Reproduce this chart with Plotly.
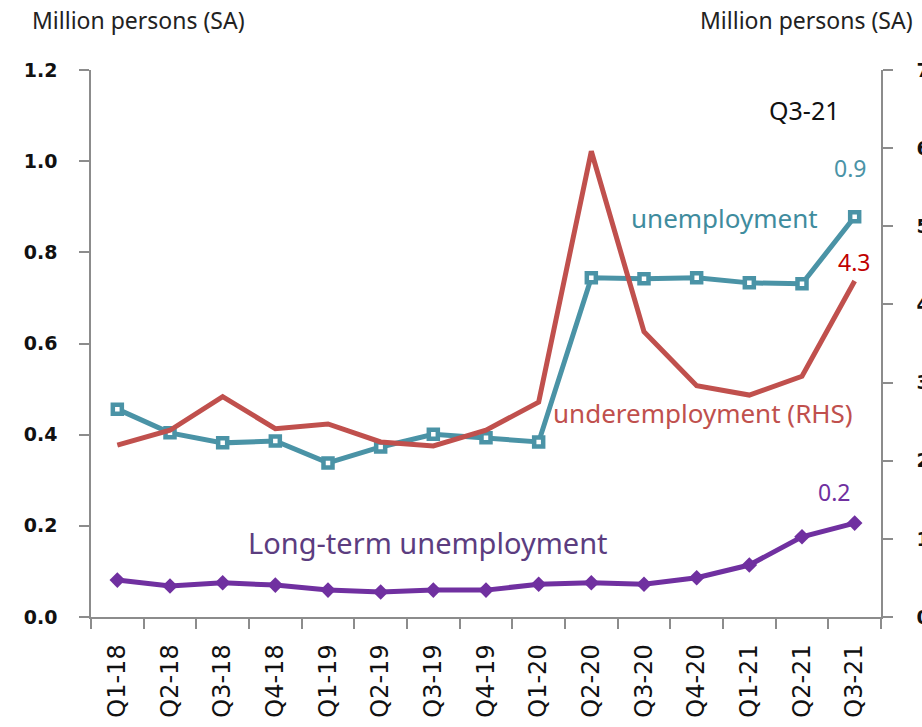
import plotly.graph_objects as go

quarters = ["Q1-18", "Q2-18", "Q3-18", "Q4-18", "Q1-19", "Q2-19", "Q3-19", "Q4-19",
            "Q1-20", "Q2-20", "Q3-20", "Q4-20", "Q1-21", "Q2-21", "Q3-21"]

# Million persons, seasonally adjusted
unemployment = [0.456, 0.404, 0.382, 0.386, 0.338, 0.373, 0.401, 0.393,
                0.384, 0.744, 0.742, 0.744, 0.733, 0.731, 0.878]
underemployment = [2.20, 2.39, 2.82, 2.41, 2.47, 2.24, 2.19, 2.39,
                   2.75, 5.96, 3.65, 2.96, 2.84, 3.08, 4.30]
long_term = [0.081, 0.068, 0.075, 0.070, 0.059, 0.055, 0.059, 0.059,
             0.072, 0.075, 0.072, 0.086, 0.114, 0.176, 0.206]

TEAL = "#4A93A6"
RED = "#C0504D"
PURPLE = "#7030A0"
AXIS = "#8C8C8C"
TICK_FONT = "DejaVu Sans"
TEXT_FONT = "Noto Sans"

fig = go.Figure()

fig.add_trace(go.Scatter(
    x=quarters, y=underemployment, yaxis="y2", mode="lines",
    line=dict(color=RED, width=5), showlegend=False))

fig.add_trace(go.Scatter(
    x=quarters, y=unemployment, mode="lines+markers",
    line=dict(color=TEAL, width=5),
    marker=dict(symbol="square", size=9, color="white",
                line=dict(color=TEAL, width=4.5)),
    showlegend=False))

fig.add_trace(go.Scatter(
    x=quarters, y=long_term, mode="lines+markers",
    line=dict(color=PURPLE, width=5),
    marker=dict(symbol="diamond", size=12, color=PURPLE),
    showlegend=False))

annotations = [
    dict(text="Million persons (SA)", x=-0.077, y=1.091, xanchor="left",
         font=dict(size=23, color="#222222")),
    dict(text="Million persons (SA)", x=0.768, y=1.091, xanchor="left",
         font=dict(size=23, color="#222222")),
    dict(text="Q3-21", x=0.9025, y=0.927, font=dict(size=25, color="#111111")),
    dict(text="0.9", x=0.961, y=0.821, font=dict(size=23, color=TEAL)),
    dict(text="unemployment", x=0.8025, y=0.729, font=dict(size=26, color="#3F8C9E")),
    dict(text="4.3", x=0.966, y=0.649, font=dict(size=23, color="#C00000")),
    dict(text="underemployment (RHS)", x=0.775, y=0.373, font=dict(size=26, color=RED)),
    dict(text="0.2", x=0.9405, y=0.2285, font=dict(size=23, color=PURPLE)),
    dict(text="Long-term unemployment", x=0.427, y=0.137,
         font=dict(size=29, color="#5C3D80")),
]
for a in annotations:
    a.update(showarrow=False, xref="paper", yref="paper", yanchor="middle")
    a.setdefault("xanchor", "center")
    a["font"]["family"] = TEXT_FONT

y_tickfont = dict(family=TICK_FONT, size=19, color="#111111", weight="bold")

fig.update_layout(
    width=922, height=727,
    margin=dict(l=91, r=41, t=70, b=110, autoexpand=False),
    paper_bgcolor="white", plot_bgcolor="white",
    annotations=annotations,
    xaxis=dict(
        type="category", tickson="boundaries", ticks="outside", ticklen=10,
        tickcolor=AXIS, tickwidth=1.5, showline=True, linecolor=AXIS, linewidth=1.5,
        showgrid=False, tickangle=-90, ticklabelstandoff=16, automargin=False,
        tickfont=dict(family=TICK_FONT, size=24, color="#111111"),
        range=[-0.5, 14.5]),
    yaxis=dict(
        range=[0, 1.2], tickvals=[0, 0.2, 0.4, 0.6, 0.8, 1.0, 1.2],
        ticktext=["0.0", "0.2", "0.4", "0.6", "0.8", "1.0", "1.2"],
        ticks="outside", ticklen=10, tickcolor=AXIS, tickwidth=1.5,
        showline=True, linecolor=AXIS, linewidth=1.5, showgrid=False, zeroline=False,
        ticklabelstandoff=18, automargin=False, tickfont=y_tickfont),
    yaxis2=dict(
        range=[0, 7], dtick=1, overlaying="y", side="right",
        ticks="outside", ticklen=10, tickcolor=AXIS, tickwidth=1.5,
        showline=True, linecolor=AXIS, linewidth=1.5, showgrid=False, zeroline=False,
        ticklabelstandoff=20, automargin=False, tickfont=y_tickfont),
)

fig.write_html("out.html")
